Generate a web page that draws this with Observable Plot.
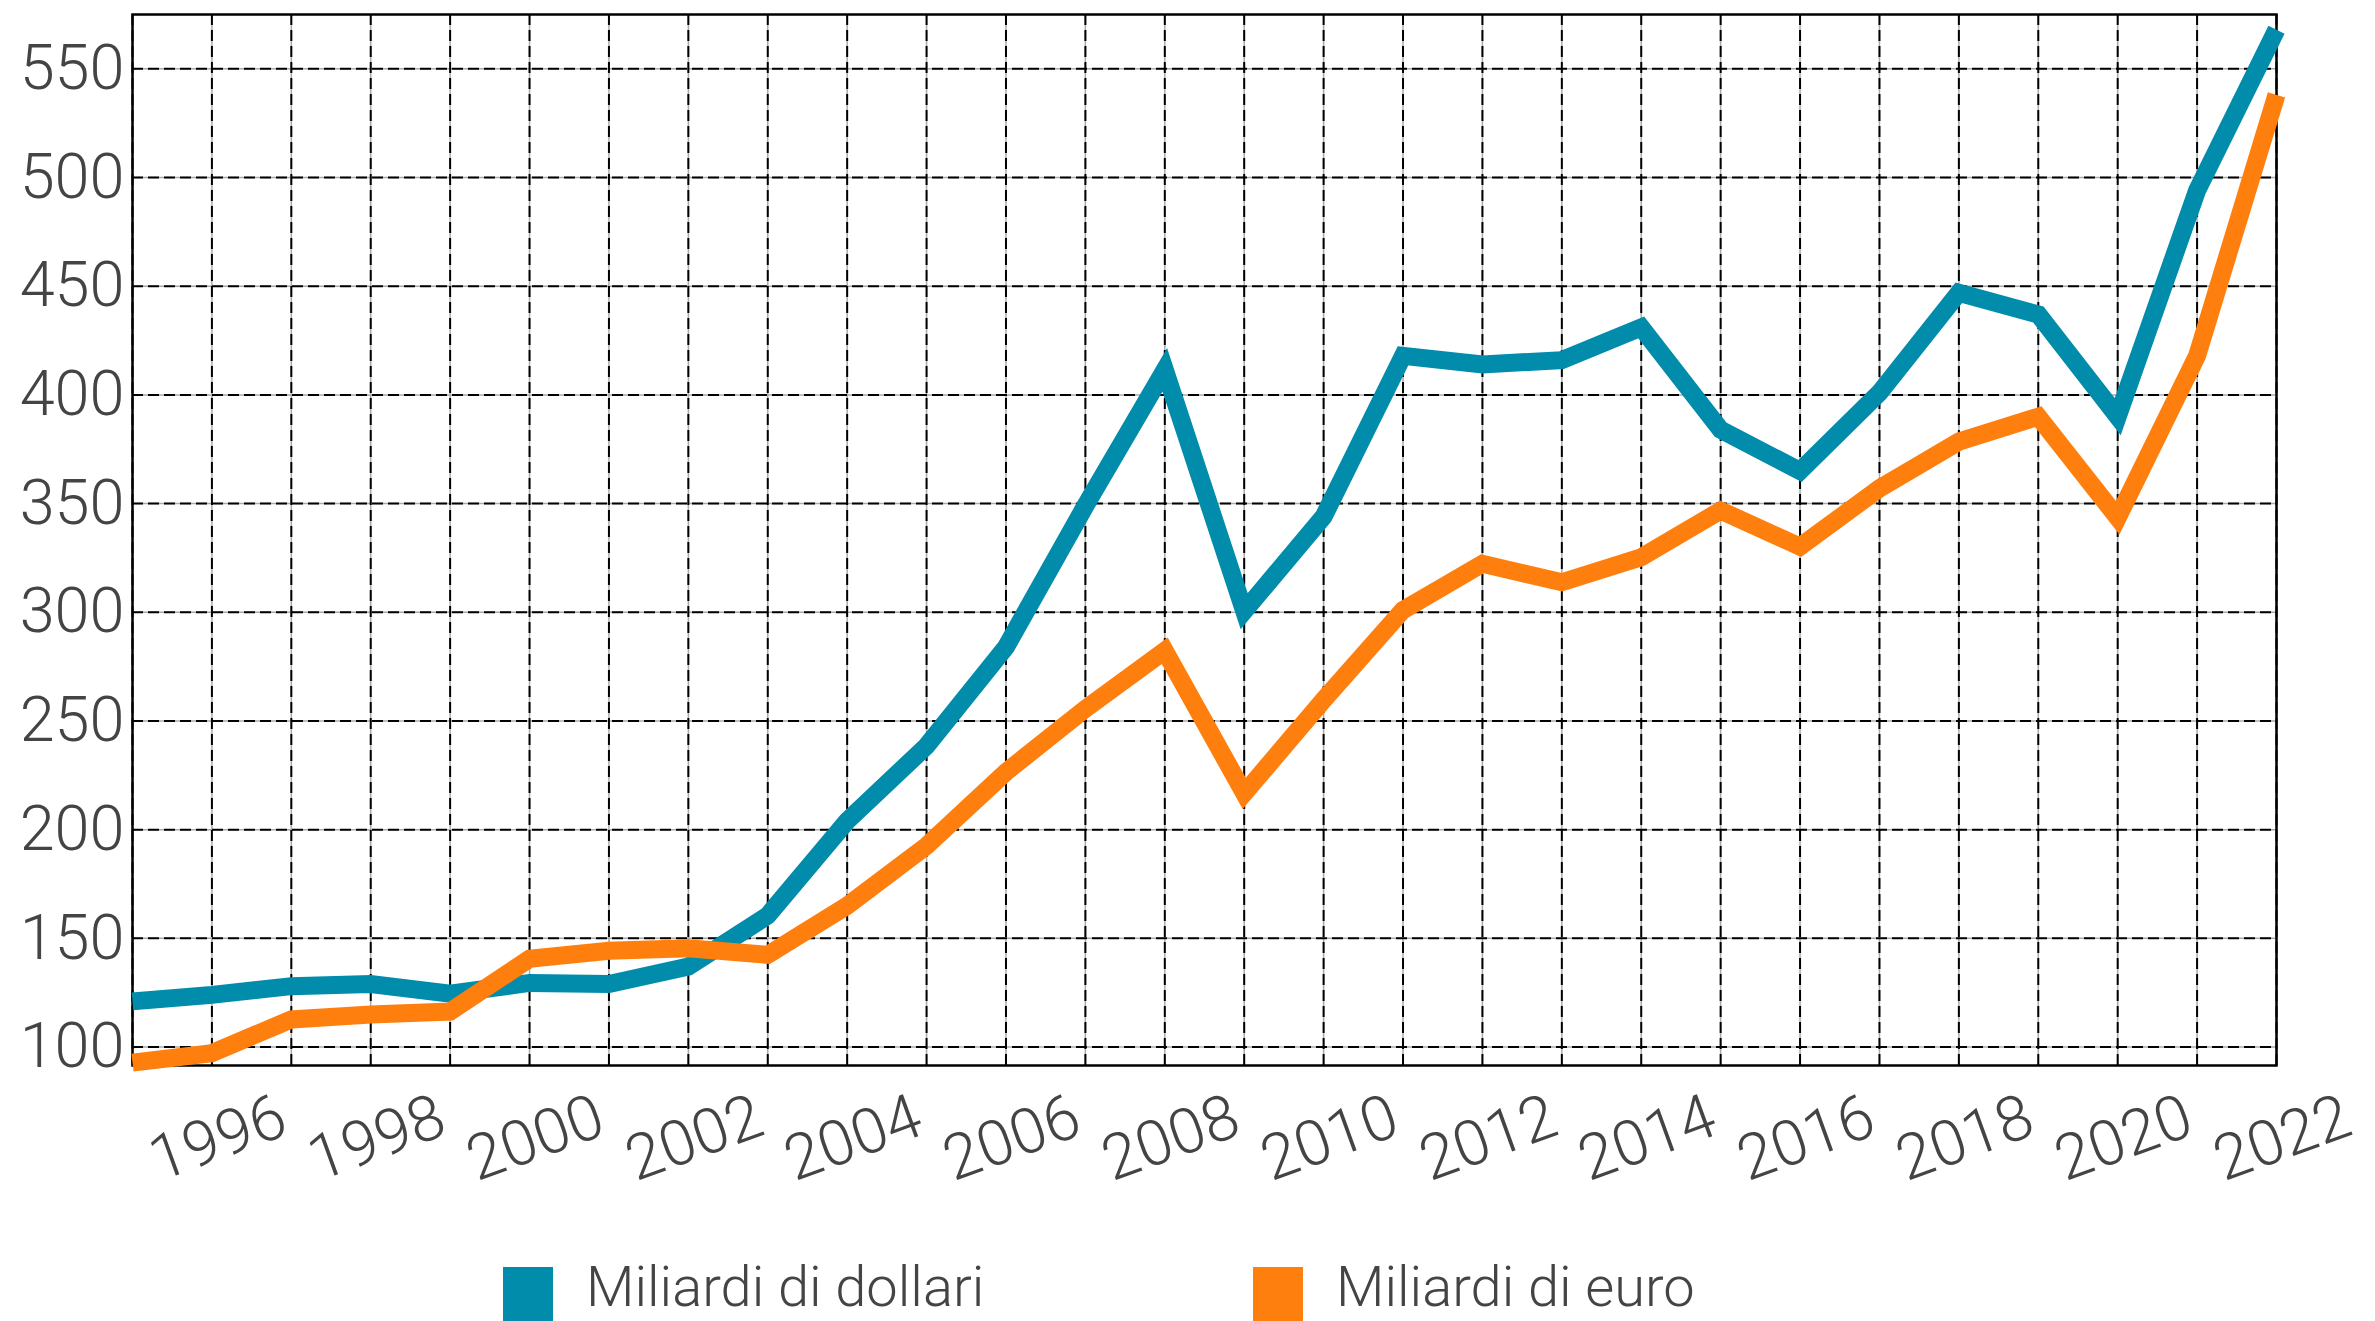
<!DOCTYPE html>
<html><head><meta charset="utf-8">
<script src="https://cdn.jsdelivr.net/npm/d3@7"></script>
<script src="https://cdn.jsdelivr.net/npm/@observablehq/plot@0.6"></script>
<style>
html,body{margin:0;padding:0;background:#fff;}
#wrap{position:relative;width:2375px;height:1321px;overflow:hidden;font-family:Roboto,"Open Sans",sans-serif;background:#fff;}
#wrap svg{position:absolute;left:0;top:0;}
.leg{position:absolute;top:1267px;height:54px;}
.sw{position:absolute;left:0;top:0;width:50px;height:54px;}
.lt{position:absolute;left:83px;top:0px;font-size:56px;line-height:40px;font-weight:300;color:#444;white-space:nowrap;}
</style></head><body><div id="wrap"></div>
<script>
const years = [1995,1996,1997,1998,1999,2000,2001,2002,2003,2004,2005,2006,2007,2008,2009,2010,2011,2012,2013,2014,2015,2016,2017,2018,2019,2020,2021,2022];
const usd = [121,124,128,129,124.5,129.5,129,137,160.5,204,238.5,284,349,411.5,300.5,344,418,414,416,431,384,365,401,447,437,390,494,568];
const eur = [92.8,97.2,112.7,115,116.3,140.6,144.3,145.4,142.4,165,192.5,226.5,255.6,282.3,216.7,259.7,301,322.3,313.8,325.3,346.8,330.2,357,378.5,390,343.5,418,538];
const yTicks = [100,150,200,250,300,350,400,450,500,550];
const xLabels = [1996,1998,2000,2002,2004,2006,2008,2010,2012,2014,2016,2018,2020,2022];
const seriesNames = ["Miliardi di dollari", "Miliardi di euro"];
const colors = ["#008caa", "#ff7f0e"];

const usdData = years.map((yr, i) => ({year: yr, value: usd[i]}));
const eurData = years.map((yr, i) => ({year: yr, value: eur[i]}));

const chart = Plot.plot({
  width: 2375,
  height: 1240,
  marginTop: 14,
  marginLeft: 132,
  marginRight: 99,
  marginBottom: 175,
  x: {domain: [1995, 2022], axis: null},
  y: {domain: [91.5, 575], axis: null},
  style: {fontFamily: "Roboto, 'Open Sans', sans-serif", color: "#444", background: "#fff", overflow: "visible"},
  marks: [
    Plot.ruleX(years, {stroke: "#aaa", strokeWidth: 1.5}),
    Plot.ruleY(yTicks, {stroke: "#aaa", strokeWidth: 1.5}),
    Plot.ruleX(years, {stroke: "#000", strokeWidth: 2, strokeDasharray: "11,5"}),
    Plot.ruleY(yTicks, {stroke: "#000", strokeWidth: 2, strokeDasharray: "11,5"}),
    Plot.frame({stroke: "#000", strokeWidth: 2.5}),
    Plot.line(usdData, {x: "year", y: "value", stroke: colors[0], strokeWidth: 18, strokeLinejoin: "miter", strokeLinecap: "butt", strokeMiterlimit: 10}),
    Plot.line(eurData, {x: "year", y: "value", stroke: colors[1], strokeWidth: 18, strokeLinejoin: "miter", strokeLinecap: "butt", strokeMiterlimit: 10}),
    Plot.axisY(yTicks, {tickSize: 0, tickPadding: 8, fontSize: 63, fill: "#444", fontWeight: 300, label: null}),
    Plot.text(xLabels, {x: d => d, text: d => String(d), frameAnchor: "bottom", dx: 13, dy: 92, rotate: -20, fontSize: 63, fill: "#444", fontWeight: 300, textAnchor: "middle"})
  ]
});

const wrap = document.getElementById("wrap");
wrap.appendChild(chart);
const legLefts = [503, 1253];
seriesNames.forEach((name, i) => {
  const item = document.createElement("div");
  item.className = "leg";
  item.style.left = legLefts[i] + "px";
  const sw = document.createElement("div");
  sw.className = "sw";
  sw.style.background = colors[i];
  const t = document.createElement("div");
  t.className = "lt";
  t.textContent = name;
  item.appendChild(sw);
  item.appendChild(t);
  wrap.appendChild(item);
});
</script>
</body></html>
